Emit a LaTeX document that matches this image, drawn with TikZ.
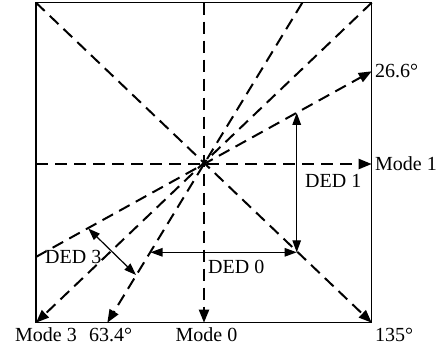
\documentclass[tikz,border=0pt]{standalone}
\usepackage{fontspec}
\setmainfont{Liberation Serif}
\usetikzlibrary{arrows.meta}
\begin{document}
\begin{tikzpicture}[x=1pt,y=-1pt,
  frame/.style={line width=1.3pt},
  modeline/.style={line width=2pt,dash pattern=on 12pt off 7pt,-{Triangle[length=13pt,width=10pt]}},
  dedarrow/.style={line width=1.2pt,{Triangle[length=12pt,width=8.5pt]}-{Triangle[length=12pt,width=8.5pt]}},
  lbl/.style={inner sep=0pt,font=\fontsize{20}{24}\selectfont}]
\useasboundingbox (0,0) rectangle (443,349);
% key points
\coordinate (O) at (204,164);
\coordinate (TL) at (36,2.7);
\coordinate (TR) at (371.7,2.7);
\coordinate (BL) at (36,322.7);
\coordinate (BR) at (371.7,322.7);
\coordinate (T) at (204,2.7);
\coordinate (B) at (204,322.7);
\coordinate (L) at (36,164);
\coordinate (R) at (371.7,164);
\coordinate (A1) at (302.3,2.7);
\coordinate (A2) at (107.3,322.7);
\coordinate (S1) at (371.7,71.3);
\coordinate (S2) at (36,256.9);
\coordinate (D1a) at (296.7,112.8);
\coordinate (D1b) at (296.7,252.3);
\coordinate (D0a) at (150.5,252.3);
\coordinate (D3a) at (88.3,228.5);
\coordinate (D3b) at (136,275);
% frame
\draw[frame] (TL) rectangle (BR);
% dashed lines
\draw[modeline] (T) -- (B);
\draw[modeline] (L) -- (R);
\draw[modeline] (TL) -- (BR);
\draw[modeline] (TR) -- (BL);
\draw[modeline] (A1) -- (A2);
\draw[modeline] (S2) -- (S1);
% DED arrows
\draw[dedarrow] (D1a) -- (D1b);
\draw[dedarrow] (D0a) -- (D1b);
\draw[dedarrow] (D3a) -- (D3b);
% labels
\node[lbl,anchor=west] (l266) at (375,71) {26.6°};
\node[lbl,anchor=west] (lm1) at (375,164) {Mode 1};
\node[lbl,anchor=west] (ld1) at (305,181) {DED 1};
\node[lbl,anchor=west] (ld0) at (208,267) {DED 0};
\node[lbl,anchor=west] (ld3) at (45,257) {DED 3};
\node[lbl] (lm3) at (46,335) {Mode 3};
\node[lbl] (l634) at (110.5,335) {63.4°};
\node[lbl] (lm0) at (206.5,335) {Mode 0};
\node[lbl,anchor=west] (l135) at (375,335) {135°};
\end{tikzpicture}
\end{document}
